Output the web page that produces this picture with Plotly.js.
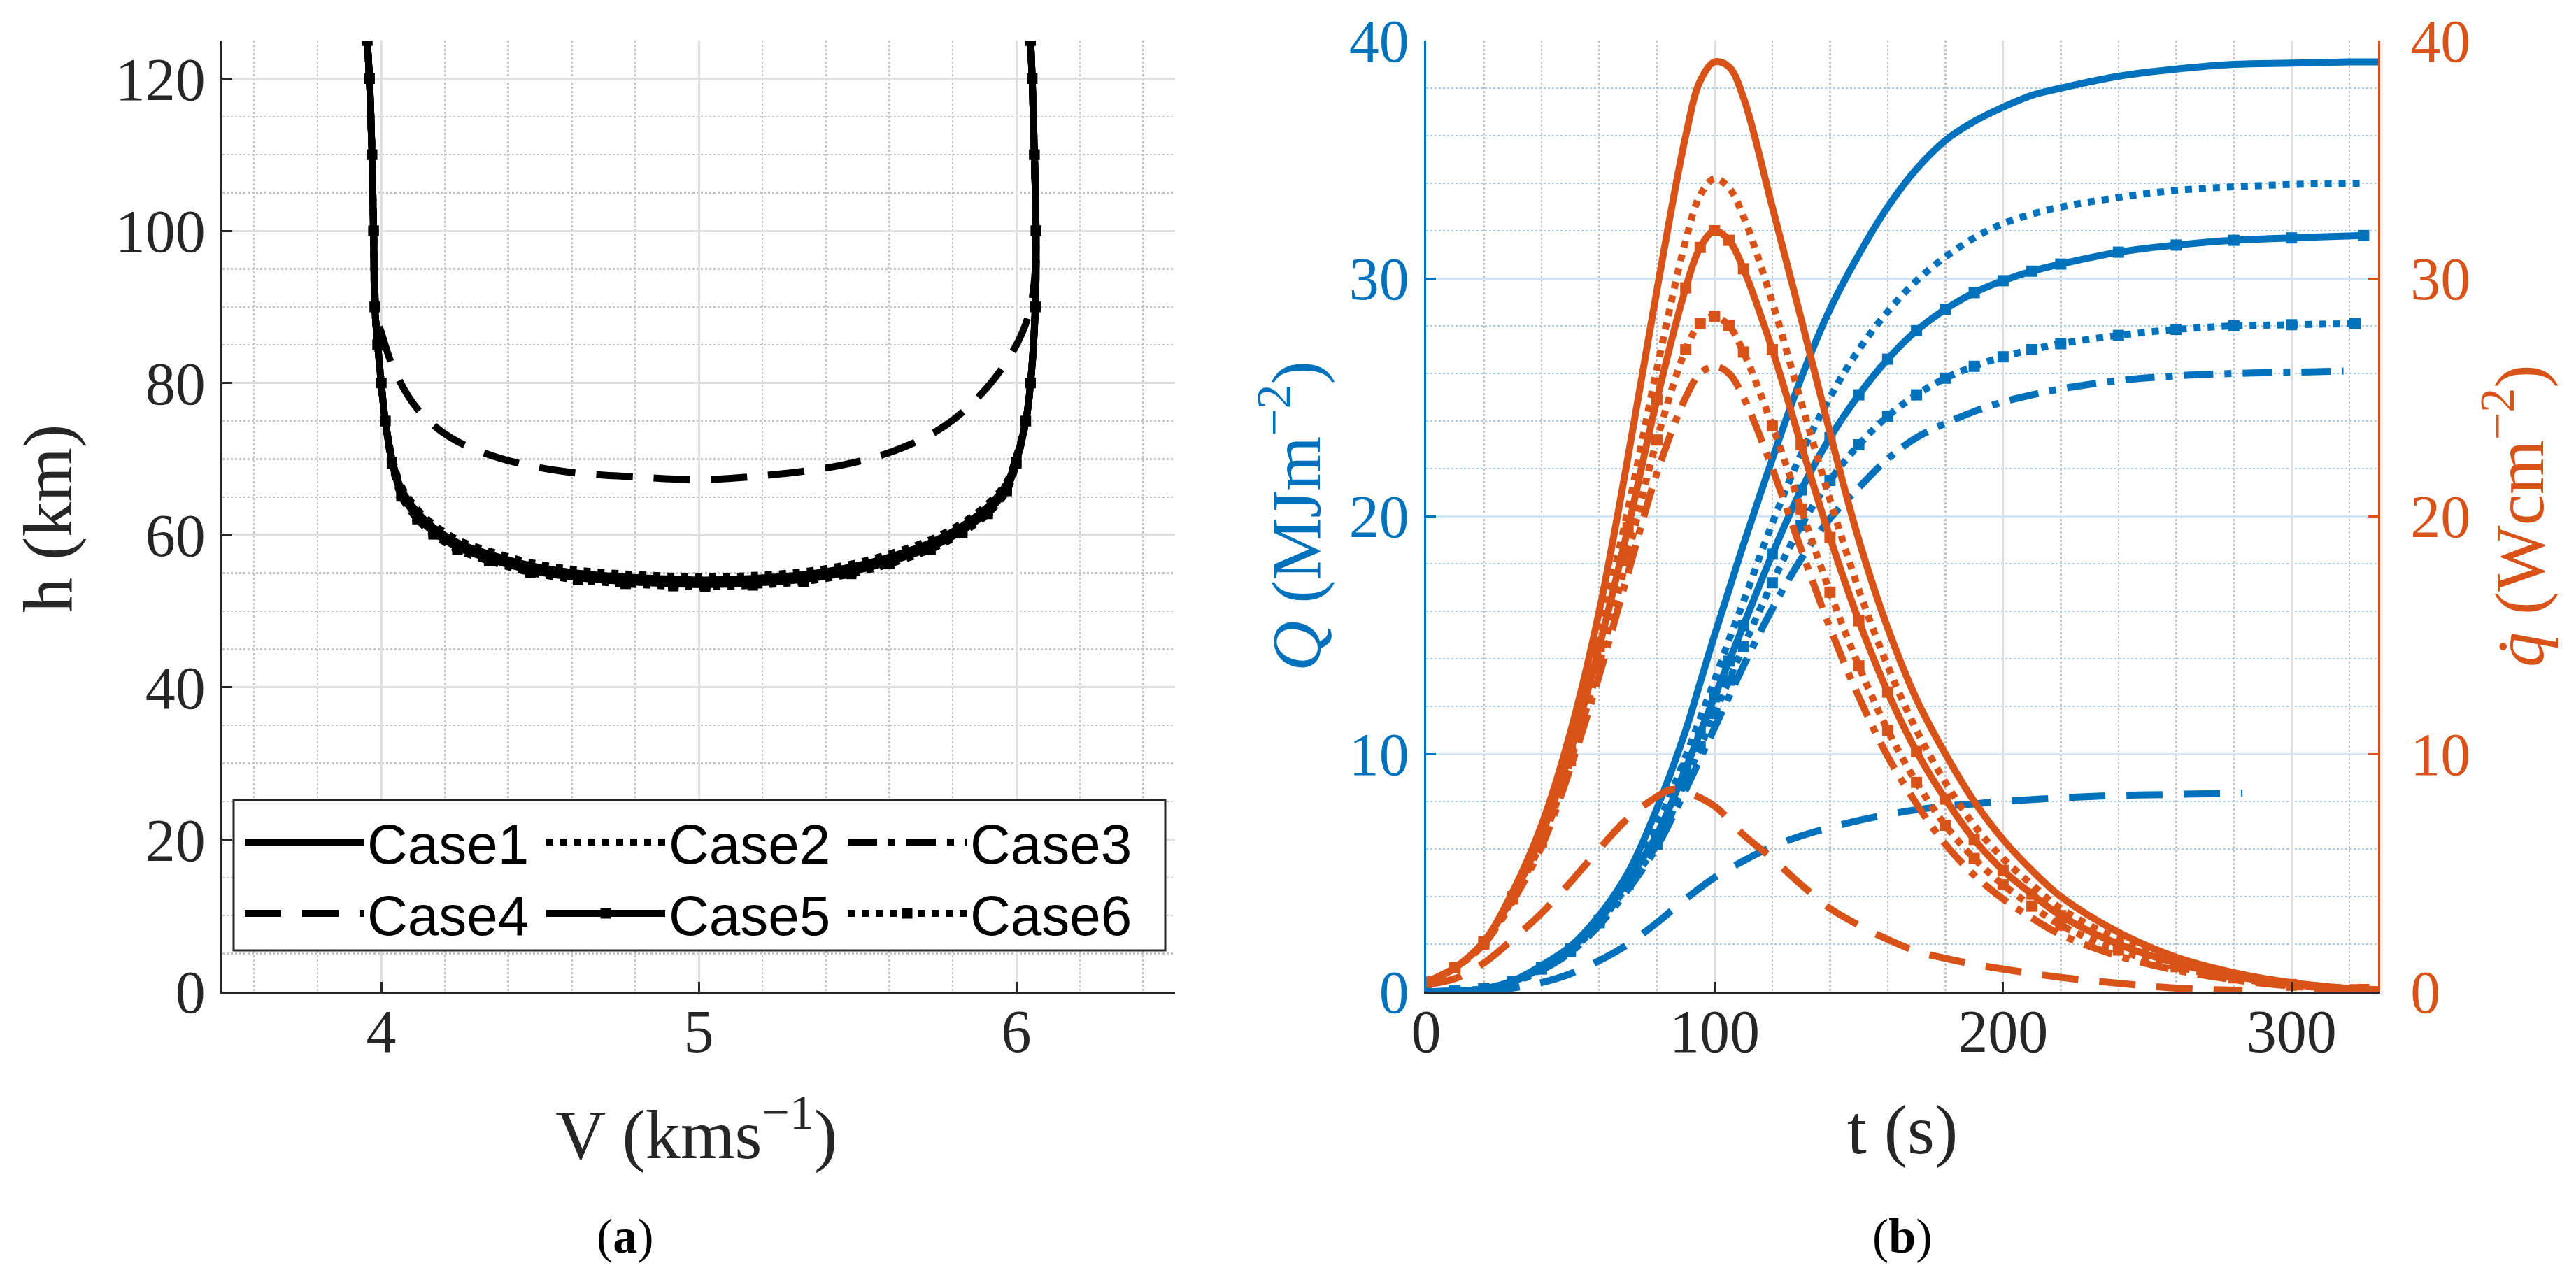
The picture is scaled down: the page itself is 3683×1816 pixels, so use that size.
<!DOCTYPE html>
<html>
<head>
<meta charset="utf-8">
<script src="https://cdn.plot.ly/plotly-3.0.1.min.js"></script>
<style>
  html, body { margin: 0; padding: 0; background: #fff; }
  #chart { width: 3683px; height: 1816px; }
</style>
</head>
<body>
<div id="chart"></div>
<script>
const BLUE = "#0072BD";
const ORANGE = "#D95319";
const INK = "#262626";
const SERIF = "Liberation Serif";
const SANS = "Liberation Sans";

const caseNames = ["Case1", "Case2", "Case3", "Case4", "Case5", "Case6"];

// panel (a): altitude h (km) against velocity V (km/s)
const vMain = [3.956, 3.963, 3.971, 3.976, 3.980, 3.989, 4.000, 4.013, 4.034, 4.064,
  4.114, 4.165, 4.24, 4.34, 4.47, 4.62, 4.77, 4.92, 5.02, 5.17,
  5.33, 5.48, 5.60, 5.73, 5.83, 5.91, 5.97, 6.00, 6.03, 6.045,
  6.06, 6.062, 6.057, 6.05, 6.045];
const hCase1 = [125, 120, 110, 100, 90, 85, 80, 75, 70, 66,
  63, 61, 59, 57.5, 56.0, 55.0, 54.5, 54.2, 54.1, 54.3,
  54.8, 55.8, 57.1, 59.0, 61.2, 63.7, 66.7, 70, 75, 80,
  90, 100, 110, 120, 125];
const hCase2 = [125, 120, 110, 100, 90, 85, 80, 75, 70.3, 66.4,
  63.4, 61.4, 59.4, 57.9, 56.4, 55.4, 54.9, 54.6, 54.5, 54.7,
  55.2, 56.2, 57.5, 59.4, 61.6, 64.1, 67.0, 70.3, 75, 80,
  90, 100, 110, 120, 125];
const hCase3 = [125, 120, 110, 100, 90, 85, 80, 75, 69.9, 65.8,
  62.8, 60.8, 58.8, 57.3, 55.8, 54.8, 54.3, 54.0, 53.9, 54.1,
  54.6, 55.6, 56.9, 58.8, 61.0, 63.5, 66.5, 69.9, 75, 80,
  90, 100, 110, 120, 125];
const hCase5 = [125, 120, 110, 100, 90, 85, 80, 75, 69.6, 65.4,
  62.4, 60.4, 58.4, 56.9, 55.4, 54.4, 53.9, 53.6, 53.5, 53.7,
  54.2, 55.2, 56.5, 58.4, 60.6, 63.1, 66.1, 69.6, 75, 80,
  90, 100, 110, 120, 125];
const hCase6 = [125, 120, 110, 100, 90, 85, 80, 75, 69.4, 65.1,
  62.1, 60.1, 58.1, 56.6, 55.1, 54.1, 53.6, 53.3, 53.2, 53.4,
  53.9, 54.9, 56.2, 58.1, 60.3, 62.8, 65.8, 69.4, 75, 80,
  90, 100, 110, 120, 125];
const vCase4 = [3.956, 3.963, 3.971, 3.976, 3.980, 3.990, 4.000, 4.039, 4.114, 4.215,
  4.367, 4.569, 4.82, 5.0, 5.2, 5.45, 5.63, 5.78, 5.906, 5.98,
  6.02, 6.045, 6.06, 6.062, 6.057, 6.05, 6.045];
const hCase4 = [125, 120, 110, 100, 92, 88, 86.7, 81.9, 76.6, 72.9,
  70.2, 68.4, 67.6, 67.3, 67.8, 69.2, 71.3, 74.5, 79.3, 83.5,
  86.7, 90, 95, 100, 110, 120, 125];

// panel (b): heat load Q (MJ/m2) and heat flux qdot (W/cm2) against time t (s)
const tCase1 = [0, 10, 20, 30, 40, 50, 60, 70, 80, 90, 95, 100, 105, 110,
  120, 130, 140, 150, 160, 170, 180, 190, 200, 210, 220, 240, 260, 280, 300, 320, 330];
const qLoad1 = [0, 0.02, 0.12, 0.45, 1.1, 1.9, 3.2, 5.0, 7.7, 11.0, 13.0, 15.0, 16.9, 18.8,
  22.4, 25.8, 28.7, 31.0, 33.0, 34.6, 35.8, 36.6, 37.2, 37.7, 38.0, 38.5, 38.8, 39.0, 39.05, 39.1, 39.1];
const qFlux1 = [0.4, 1.0, 2.1, 4.2, 7.0, 10.9, 16.0, 22.5, 29.5, 36.0, 38.3, 39.1, 38.9, 37.6,
  33.0, 28.3, 23.5, 19.0, 15.3, 12.3, 10.0, 8.0, 6.4, 5.1, 4.0, 2.5, 1.45, 0.8, 0.38, 0.14, 0.08];

const tCase2 = [0, 10, 20, 30, 40, 50, 60, 70, 80, 90, 95, 100, 105, 110,
  120, 130, 140, 150, 160, 170, 180, 190, 200, 210, 220, 240, 260, 280, 300, 325];
const qLoad2 = [0, 0.02, 0.12, 0.43, 1.05, 1.85, 3.1, 4.9, 7.0, 9.9, 11.5, 13.1, 14.8, 16.4,
  19.7, 22.6, 25.0, 27.0, 28.6, 29.9, 30.9, 31.7, 32.3, 32.7, 33.0, 33.4, 33.7, 33.85, 33.95, 34.0];
const qFlux2 = [0.4, 1.0, 2.1, 4.1, 6.8, 10.5, 15.0, 20.3, 26.2, 31.6, 33.5, 34.2, 33.8, 32.6,
  29.0, 24.8, 20.7, 16.9, 13.7, 11.0, 8.8, 7.0, 5.6, 4.5, 3.5, 2.2, 1.3, 0.7, 0.33, 0.1];

const tCase3 = [0, 10, 20, 30, 40, 50, 60, 70, 80, 90, 95, 100, 105, 110,
  120, 130, 140, 150, 160, 170, 180, 190, 200, 210, 220, 240, 260, 280, 300, 318];
const qLoad3 = [0, 0.02, 0.11, 0.38, 0.9, 1.65, 2.8, 4.3, 6.1, 8.5, 9.8, 11.1, 12.4, 13.7,
  16.1, 18.2, 19.9, 21.2, 22.4, 23.3, 23.9, 24.4, 24.8, 25.1, 25.35, 25.7, 25.9, 26.0, 26.05, 26.1];
const qFlux3 = [0.4, 1.0, 2.0, 3.8, 6.1, 9.4, 13.3, 17.6, 21.8, 25.0, 26.0, 26.3, 26.0, 25.0,
  22.0, 18.6, 15.3, 12.4, 9.9, 7.9, 6.2, 4.9, 3.9, 3.1, 2.4, 1.5, 0.9, 0.5, 0.23, 0.08];

const tCase4 = [0, 10, 20, 30, 40, 50, 60, 70, 80, 85, 90, 100, 110,
  120, 130, 140, 150, 160, 170, 180, 190, 200, 220, 240, 260, 283];
const qLoad4 = [0, 0.01, 0.04, 0.15, 0.38, 0.75, 1.3, 2.0, 2.9, 3.4, 3.9, 4.8, 5.5,
  6.1, 6.55, 6.9, 7.2, 7.45, 7.65, 7.8, 7.9, 8.0, 8.15, 8.25, 8.3, 8.35];
const qFlux4 = [0.3, 0.55, 1.2, 2.2, 3.3, 4.6, 6.0, 7.3, 8.2, 8.5, 8.4, 7.8, 6.6,
  5.6, 4.5, 3.5, 2.8, 2.2, 1.7, 1.4, 1.15, 0.95, 0.6, 0.35, 0.15, 0.05];

const tCase5 = [0, 10, 20, 30, 40, 50, 60, 70, 80, 90, 95, 100, 105, 110,
  120, 130, 140, 150, 160, 170, 180, 190, 200, 210, 220, 240, 260, 280, 300, 325];
const qLoad5 = [0, 0.02, 0.12, 0.42, 1.0, 1.8, 3.0, 4.7, 6.6, 9.4, 10.9, 12.4, 13.9, 15.4,
  18.4, 21.1, 23.3, 25.1, 26.6, 27.8, 28.7, 29.4, 29.9, 30.3, 30.6, 31.1, 31.4, 31.6, 31.7, 31.8];
const qFlux5 = [0.4, 1.0, 2.1, 4.0, 6.6, 10.1, 14.5, 19.5, 24.9, 29.6, 31.3, 32.0, 31.6, 30.4,
  27.0, 23.0, 19.1, 15.6, 12.6, 10.1, 8.1, 6.4, 5.1, 4.1, 3.2, 2.0, 1.2, 0.65, 0.3, 0.09];

const tCase6 = [0, 10, 20, 30, 40, 50, 60, 70, 80, 90, 95, 100, 105, 110,
  120, 130, 140, 150, 160, 170, 180, 190, 200, 210, 220, 240, 260, 280, 300, 322];
const qLoad6 = [0, 0.02, 0.11, 0.4, 0.95, 1.7, 2.9, 4.5, 6.2, 8.9, 10.3, 11.7, 13.1, 14.5,
  17.2, 19.6, 21.5, 23.0, 24.2, 25.1, 25.8, 26.3, 26.7, 27.0, 27.25, 27.6, 27.85, 28.0, 28.05, 28.1];
const qFlux6 = [0.4, 1.0, 2.0, 3.9, 6.3, 9.7, 13.8, 18.4, 23.2, 27.0, 28.1, 28.4, 28.0, 26.9,
  23.8, 20.3, 16.8, 13.7, 11.0, 8.8, 7.0, 5.6, 4.5, 3.6, 2.8, 1.75, 1.05, 0.58, 0.27, 0.08];

const panelA = [[vMain, hCase1], [vMain, hCase2], [vMain, hCase3],
  [vCase4, hCase4], [vMain, hCase5], [vMain, hCase6]];
const panelB = [[tCase1, qLoad1, qFlux1], [tCase2, qLoad2, qFlux2], [tCase3, qLoad3, qFlux3],
  [tCase4, qLoad4, qFlux4], [tCase5, qLoad5, qFlux5], [tCase6, qLoad6, qFlux6]];

// line styles per case: solid, dotted, dash-dot, dashed, solid+squares, dotted+squares
const dashes = ["solid", "dot", "42px,16px,10px,16px", "52px,30px", "solid", "dot"];

function caseTrace(i, x, y, color, width, msize, extra) {
  const withMarkers = i >= 4;
  return Object.assign({
    type: "scatter",
    x: x,
    y: y,
    name: caseNames[i],
    mode: withMarkers ? "lines+markers" : "lines",
    line: { color: color, width: width, dash: dashes[i], shape: "spline", smoothing: 1 },
    marker: { symbol: "square", size: msize, color: color },
  }, extra);
}

const traces = [];
panelA.forEach(([v, h], i) => {
  traces.push(caseTrace(i, v, h, "#000000", 10, 15, {
    xaxis: "x", yaxis: "y",
    legend: i < 3 ? "legend" : "legend2",
  }));
});
panelB.forEach(([t, load], i) => {
  traces.push(caseTrace(i, t, load, BLUE, 10, 16, { xaxis: "x2", yaxis: "y2", showlegend: false }));
});
panelB.forEach(([t, , flux], i) => {
  traces.push(caseTrace(i, t, flux, ORANGE, 10, 16, { xaxis: "x2", yaxis: "y3", showlegend: false }));
});

const tickFont = (color) => ({ family: SERIF, size: 86, color: color });
const titleFont = (color) => ({ family: SERIF, size: 100, color: color });

function axis(extra) {
  return Object.assign({
    showline: true, linewidth: 3, linecolor: INK,
    ticks: "inside", ticklen: 14, tickwidth: 3, tickcolor: INK,
    tickfont: tickFont(INK),
    zeroline: false,
    showgrid: true, gridcolor: "#dfdfdf", gridwidth: 3,
    fixedrange: true,
  }, extra);
}

const yDomain = [1 - 1418 / 1816, 1 - 58 / 1816];

function legendRow(yPix) {
  return {
    orientation: "h", x: 345 / 3683, y: 1 - yPix / 1816, xanchor: "left", yanchor: "middle",
    itemwidth: 170, entrywidth: 246, entrywidthmode: "pixels",
    font: { family: SANS, size: 80, color: "#000000" },
    bgcolor: "rgba(0,0,0,0)", borderwidth: 0,
  };
}

const layout = {
  width: 3683,
  height: 1816,
  margin: { l: 0, r: 0, t: 0, b: 0 },
  paper_bgcolor: "#ffffff",
  plot_bgcolor: "#ffffff",
  hovermode: false,
  xaxis: axis({
    domain: [318 / 3683, 1680 / 3683], range: [3.5, 6.5], anchor: "y",
    dtick: 1, tick0: 4, ticklabelstandoff: -20,
    minor: { dtick: 0.2, tick0: 4, showgrid: true, gridcolor: "#c4c4c4", griddash: "dot", gridwidth: 2.5 },
  }),
  yaxis: axis({
    domain: yDomain, range: [0, 125], anchor: "x",
    dtick: 20, ticklabelstandoff: 4,
    minor: { dtick: 5, showgrid: true, gridcolor: "#c4c4c4", griddash: "dot", gridwidth: 2.5 },
  }),
  xaxis2: axis({
    domain: [2039 / 3683, 3400 / 3683], range: [0, 330], anchor: "y2",
    dtick: 100, ticklabelstandoff: -20,
    minor: { dtick: 20, showgrid: true, gridcolor: "#c4c4c4", griddash: "dot", gridwidth: 2.5 },
  }),
  yaxis2: axis({
    domain: yDomain, range: [0, 40], anchor: "x2",
    dtick: 10, ticklabelstandoff: 4,
    linecolor: BLUE, tickcolor: BLUE, tickfont: tickFont(BLUE),
    gridcolor: "#d3e6f3",
    minor: { dtick: 2, showgrid: true, gridcolor: "#a9cde8", griddash: "dot", gridwidth: 2.5 },
  }),
  yaxis3: axis({
    domain: yDomain, range: [0, 40], anchor: "x2", overlaying: "y2", side: "right",
    dtick: 10, ticklabelstandoff: 26, showgrid: false,
    linecolor: ORANGE, tickcolor: ORANGE, tickfont: tickFont(ORANGE),
  }),
  legend: legendRow(1204),
  legend2: legendRow(1306),
  shapes: [{
    // shared frame behind both legend rows
    type: "rect", xref: "paper", yref: "paper", layer: "above",
    x0: 334 / 3683, x1: 1666 / 3683, y0: 1 - 1359 / 1816, y1: 1 - 1144 / 1816,
    line: { color: INK, width: 3 }, fillcolor: "#ffffff",
  }],
  annotations: [
    { text: "h (km)", x: 68 / 3683, y: 1 - 742 / 1816, textangle: -90, font: titleFont(INK) },
    { text: "V (kms<sup>\u22121</sup>)", x: 995 / 3683, y: 1 - 1615 / 1816, font: titleFont(INK) },
    { text: "(<b>a</b>)", x: 894 / 3683, y: 1 - 1767 / 1816, font: { family: SERIF, size: 70, color: "#000000" } },
    { text: "<i>Q</i> (MJm<sup>\u22122</sup>)", x: 1846 / 3683, y: 1 - 738 / 1816, textangle: -90, font: titleFont(BLUE) },
    { text: "<i>q\u0307</i> (Wcm<sup>\u22122</sup>)", x: 3595 / 3683, y: 1 - 738 / 1816, textangle: -90, font: titleFont(ORANGE) },
    { text: "t (s)", x: 2720 / 3683, y: 1 - 1615 / 1816, font: titleFont(INK) },
    { text: "(<b>b</b>)", x: 2720 / 3683, y: 1 - 1767 / 1816, font: { family: SERIF, size: 70, color: "#000000" } },
  ].map((a) => Object.assign({ xref: "paper", yref: "paper", xanchor: "center", yanchor: "middle", showarrow: false }, a)),
};

Plotly.newPlot("chart", traces, layout, { displayModeBar: false, staticPlot: true });
</script>
</body>
</html>
